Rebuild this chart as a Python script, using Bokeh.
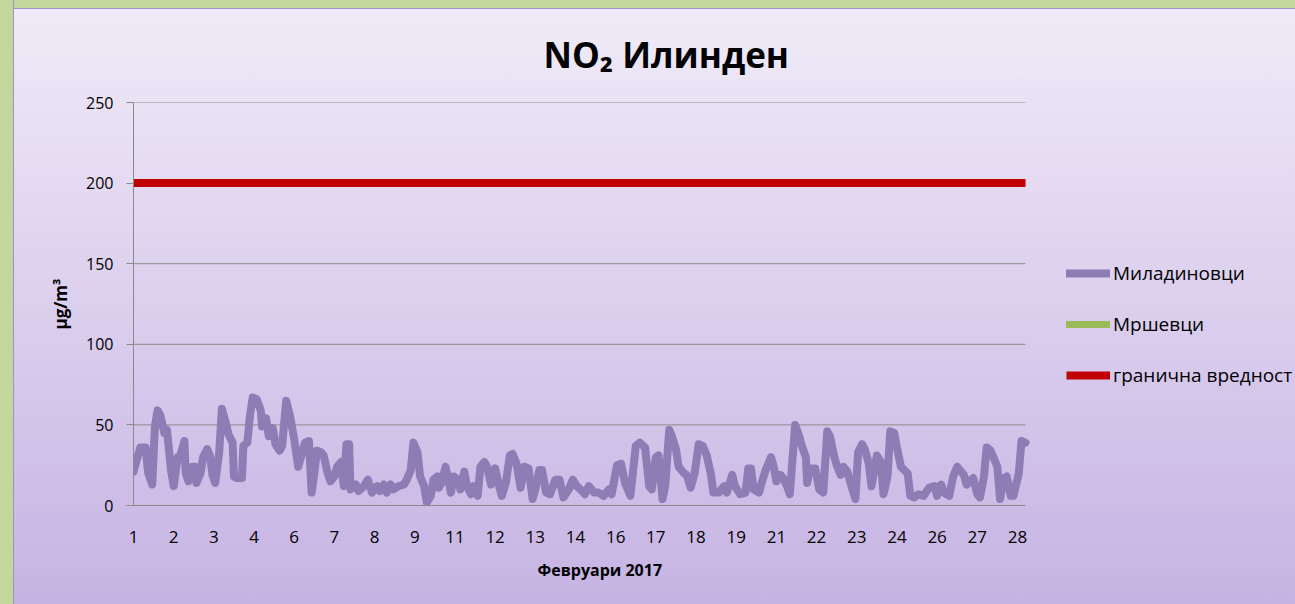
from bokeh.plotting import figure
from bokeh.models import Range1d, FixedTicker, Legend, LegendItem, ColumnDataSource, Title
from bokeh.embed import file_html
from bokeh.resources import INLINE

# ---- data (hour of February 2017, starting at 1 Feb 00h) ----
hours = [0, 5, 9, 11, 14, 16, 18, 20, 23, 25, 28, 30, 33, 35, 38, 39, 41, 44, 46, 47,
         50, 52, 55, 57, 59, 61, 64, 66, 69, 71, 74, 75, 77, 81, 82, 85, 87, 89, 92, 95,
         96, 99, 101, 104, 106, 109,
         111, 114, 117, 120, 123, 126, 128, 131, 133, 135, 137, 140, 142, 145, 147, 150,
         152, 155, 157, 159, 161, 162, 166, 168, 172, 175, 178, 182, 184, 187, 189, 192,
         194, 198, 202, 204, 207, 209, 212, 214, 217, 219, 222, 224, 227,
         228, 230, 233, 237, 239, 242, 244, 247, 249, 252, 254, 257, 259, 262, 264, 267,
         270, 273, 275, 278, 281, 283, 286, 289, 292, 295, 298, 300, 303, 305, 308, 311,
         315, 318, 321, 325, 328, 331, 335, 337, 340, 344,
         347, 351, 355, 357, 361, 364, 367, 371, 375, 378, 382, 385, 387, 390, 392, 395,
         397, 400, 402, 405, 407, 411, 413, 416, 419, 422, 425, 428, 431, 433, 437, 441,
         443, 447, 449, 453, 457, 459,
         461, 463, 467, 469, 472, 476, 478, 480, 483, 485, 488, 490, 494, 497, 499, 502,
         503, 505, 509, 512, 515, 518, 520, 523, 525, 528, 530, 533, 535, 539, 541, 544,
         546, 549, 551, 555, 558, 560, 563, 565, 568, 570, 573,
         578, 580, 583, 586, 590, 594, 598, 600, 603, 605, 609, 612, 615, 617, 620, 622,
         625, 627, 630, 632, 635, 637, 640, 642, 645, 647, 650, 652, 655, 657, 661, 663, 666]

miladinovci = [21, 36, 36, 20, 13, 49, 59, 56, 45, 47, 22, 12, 30, 31, 40, 20, 15, 24, 24, 14,
               20, 30, 35, 31, 19, 14, 33, 60, 51, 44, 39, 18, 17, 17, 37, 39, 56, 67, 66, 59,
               49, 54, 43, 48, 38, 34,
               37, 65, 55, 41, 24, 33, 39, 40, 8, 20, 34, 33, 31, 20, 15, 18,
               24, 27, 12, 38, 38, 10, 13, 9, 12, 16, 8, 12, 9, 13, 8, 13,
               10, 12, 13, 16, 22, 39, 33, 18, 12, 2, 6, 16, 18,
               11, 14, 24, 8, 18, 16, 10, 21, 12, 7, 12, 6, 24, 27, 24, 13,
               23, 12, 6, 14, 31, 32, 26, 11, 24, 23, 4, 10, 22, 22, 8, 7,
               16, 16, 5, 10, 16, 12, 9, 7, 12, 8,
               8, 6, 10, 7, 25, 26, 14, 6, 37, 39, 36, 12, 10, 30, 31, 4,
               12, 47, 43, 35, 24, 20, 19, 11, 20, 38, 37, 31, 20, 8, 8, 12,
               8, 19, 12, 7, 8, 23,
               23, 10, 8, 14, 22, 30, 24, 15, 19, 17, 12, 7, 50, 43, 37, 30,
               14, 23, 23, 10, 8, 46, 43, 31, 25, 19, 24, 21, 15, 4, 33, 38,
               35, 26, 12, 31, 27, 7, 18, 46, 45, 36, 24,
               20, 6, 5, 7, 6, 11, 12, 6, 13, 8, 6, 18, 24, 22, 19, 13,
               15, 17, 7, 5, 18, 36, 34, 30, 24, 4, 17, 18, 6, 6, 20, 40, 39]

# Мршевци: no measurements in this period (series appears only in the legend)
mrshevci_hours = [0]
mrshevci = [float("nan")]
limit_value = 200

y_ticks = [0, 50, 100, 150, 200, 250]
day_labels = ["1", "2", "3", "4", "6", "7", "8", "9", "11", "12", "13", "14",
              "16", "17", "18", "19", "21", "22", "23", "24", "26", "27", "28"]
label_step = 30  # category labels every 30 hourly points

series_names = ["Миладиновци", "Мршевци", "гранична вредност"]
FONT = "Open Sans"

# ---- layout geometry (pixels) ----
W, H = 1295, 604
LEFT, TOP, BOTTOM = 133, 102, 99
PLOT_AREA_RIGHT = 1025          # where the Excel plot area ends; the legend lives to its right
x_end = hours[-1] + (hours[-1] - hours[0]) * (W - PLOT_AREA_RIGHT) / (PLOT_AREA_RIGHT - LEFT)

p = figure(width=W, height=H, output_backend="svg", toolbar_location=None,
           x_range=Range1d(hours[0], x_end), y_range=Range1d(y_ticks[0], y_ticks[-1]),
           min_border_left=LEFT, min_border_right=0, min_border_top=TOP, min_border_bottom=BOTTOM)
p.border_fill_color = None
p.background_fill_color = None
p.outline_line_color = None
p.styles = {
    "background-image": (
        "linear-gradient(to right, #c3d69b 0px, #c3d69b 13px, #a48fcd 13px, #a48fcd 14px, transparent 14px),"
        "linear-gradient(to bottom, #c3d69b 0px, #c3d69b 8px, #a48fcd 8px, #a48fcd 9px, #f0ebf8 9px, #c6b3e3 100%)"
    )
}

p.title.text = "NO₂ Илинден"
p.title.align = "left"
p.title.offset = 410
p.title.standoff = 50
p.title.text_font = FONT
p.title.text_font_size = "35px"
p.title.text_font_style = "bold"
p.title.text_color = "#000000"

grid_col = "#8a8a8a"
# horizontal gridlines limited to the plot area
p.xgrid.visible = False
p.ygrid.visible = False
p.segment(x0=[hours[0]] * (len(y_ticks) - 1), x1=[hours[-1]] * (len(y_ticks) - 1),
          y0=y_ticks[1:], y1=y_ticks[1:], line_color=grid_col, line_width=1)

src = ColumnDataSource(dict(h=hours, v=miladinovci))
r_mil = p.line("h", "v", source=src, line_color="#8e7cb4", line_width=8,
               line_join="round", line_cap="round")
r_mrs = p.line(x=mrshevci_hours, y=mrshevci, line_color="#9bbb59", line_width=7, line_cap="round")
r_lim = p.line(x=[hours[0], hours[-1]], y=[limit_value, limit_value],
               line_color="#c00000", line_width=8)

# axes
p.yaxis.ticker = FixedTicker(ticks=y_ticks)
ticks = [i * label_step for i in range(len(day_labels))]
p.xaxis.ticker = FixedTicker(ticks=ticks)
p.xaxis.major_label_overrides = {t: lab for t, lab in zip(ticks, day_labels)}
p.xaxis.bounds = (hours[0], hours[-1])
for ax in (p.xaxis[0], p.yaxis[0]):
    ax.axis_line_color = grid_col
    ax.axis_line_width = 1
    ax.major_tick_line_color = grid_col
    ax.minor_tick_line_color = None
    ax.major_tick_in = 0
    ax.major_label_text_font = FONT
    ax.major_label_text_color = "#000000"
    ax.axis_label_text_font = FONT
    ax.axis_label_text_font_style = "bold"
    ax.axis_label_text_color = "#000000"
p.yaxis.major_label_text_font_size = "16px"
p.xaxis.major_label_text_font_size = "17px"
p.yaxis.major_tick_out = 7
p.yaxis.major_label_standoff = 13
p.xaxis.major_tick_out = 0
p.xaxis.major_label_standoff = 25
p.yaxis.axis_label = "μg/m³"
p.yaxis.axis_label_text_font_size = "17px"
p.yaxis.axis_label_standoff = 11

# x-axis title centred under the plot area
p.add_layout(Title(text="Февруари 2017", align="left", offset=404, standoff=22,
                   text_font=FONT, text_font_size="16px", text_font_style="bold",
                   text_color="#000000"), "below")

legend = Legend(items=[LegendItem(label=series_names[0], renderers=[r_mil]),
                       LegendItem(label=series_names[1], renderers=[r_mrs]),
                       LegendItem(label=series_names[2], renderers=[r_lim])],
                location=(1066 - LEFT, 117), orientation="vertical",
                background_fill_alpha=0, border_line_alpha=0, padding=0, margin=0,
                spacing=25, glyph_width=44, glyph_height=26, label_height=26,
                label_standoff=3, label_text_font=FONT, label_text_font_size="19px",
                label_text_color="#000000")
p.add_layout(legend)

open("out.html", "w").write(file_html(p, INLINE))
